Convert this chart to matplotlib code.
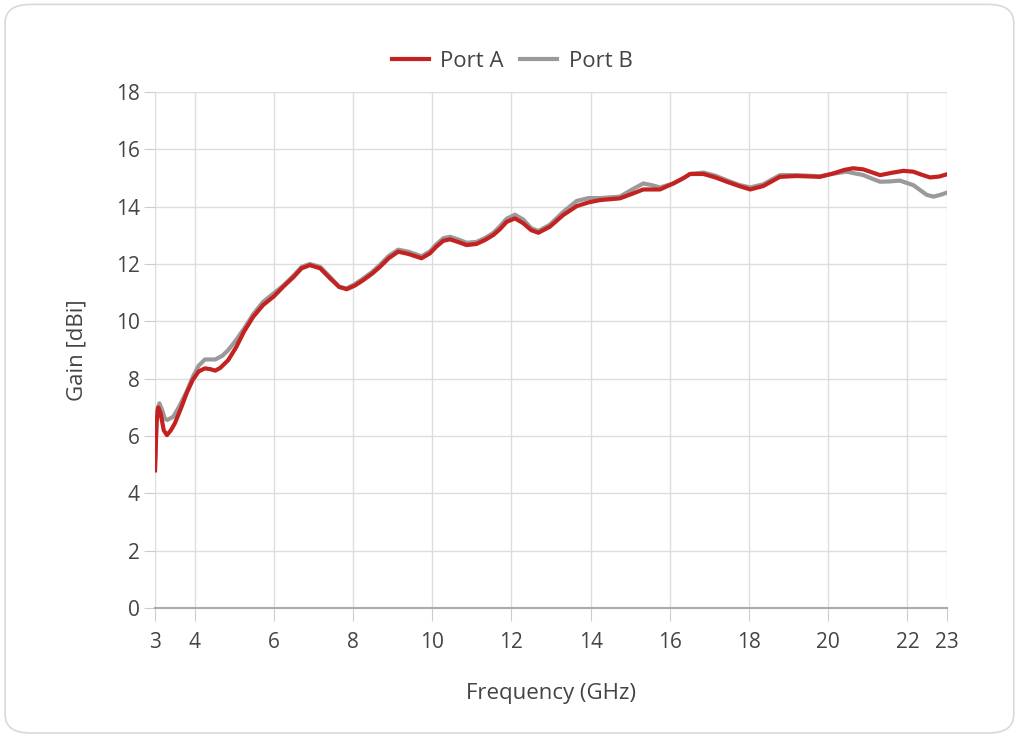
import matplotlib
matplotlib.use('Agg')
import matplotlib.pyplot as plt
from matplotlib.patches import FancyBboxPatch

plt.rcParams['font.family'] = ['Open Sans', 'DejaVu Sans']

# Port A (red) - frequency in GHz, gain in dBi
freq_a = [3.00, 3.04, 3.08, 3.14, 3.22, 3.30, 3.40, 3.50, 3.65, 3.80, 3.95, 4.10,
          4.26, 4.40, 4.52, 4.65, 4.85, 5.05, 5.25, 5.48, 5.73, 6.00, 6.24, 6.50,
          6.70, 6.91, 7.17, 7.42, 7.65, 7.84, 8.05, 8.26, 8.48, 8.68, 8.90, 9.14,
          9.40, 9.73, 9.94, 10.10, 10.28, 10.45, 10.65, 10.87, 11.12, 11.35, 11.54,
          11.70, 11.88, 12.09, 12.30, 12.50, 12.68, 12.97, 13.31, 13.65, 13.95,
          14.24, 14.74, 15.05, 15.33, 15.75, 16.09, 16.35, 16.51, 16.85, 17.15,
          17.44, 17.75, 18.03, 18.36, 18.78, 19.20, 19.79, 20.13, 20.40, 20.63,
          20.89, 21.10, 21.31, 21.60, 21.90, 22.15, 22.35, 22.57, 22.80, 23.00]
gain_a = [4.8, 6.5, 7.0, 6.8, 6.2, 6.03, 6.2, 6.44, 6.95, 7.5, 7.95, 8.25,
          8.36, 8.33, 8.28, 8.38, 8.65, 9.1, 9.65, 10.16, 10.57, 10.87, 11.21, 11.55,
          11.85, 11.96, 11.85, 11.5, 11.2, 11.12, 11.25, 11.44, 11.66, 11.9, 12.2, 12.43,
          12.35, 12.2, 12.37, 12.6, 12.81, 12.86, 12.77, 12.66, 12.7, 12.85, 13.01,
          13.2, 13.47, 13.59, 13.42, 13.18, 13.09, 13.3, 13.71, 14.02, 14.15,
          14.23, 14.29, 14.45, 14.6, 14.6, 14.81, 15.0, 15.14, 15.14, 15.02,
          14.87, 14.72, 14.6, 14.72, 15.04, 15.07, 15.04, 15.16, 15.28, 15.34,
          15.3, 15.2, 15.1, 15.18, 15.25, 15.22, 15.12, 15.02, 15.05, 15.13]

# Port B (grey)
freq_b = [3.00, 3.04, 3.11, 3.18, 3.25, 3.31, 3.46, 3.60, 3.80, 3.95, 4.10, 4.26,
          4.52, 4.70, 4.85, 5.05, 5.25, 5.48, 5.73, 6.00, 6.24, 6.50, 6.70, 6.91,
          7.17, 7.42, 7.65, 7.84, 8.05, 8.26, 8.48, 8.68, 8.90, 9.14, 9.40, 9.73,
          9.94, 10.10, 10.28, 10.45, 10.65, 10.87, 11.12, 11.35, 11.54, 11.70, 11.88,
          12.09, 12.30, 12.50, 12.68, 12.97, 13.31, 13.65, 13.95, 14.24, 14.74,
          15.05, 15.33, 15.55, 15.75, 16.09, 16.35, 16.51, 16.85, 17.15, 17.44,
          17.75, 18.03, 18.36, 18.78, 19.20, 19.79, 20.13, 20.46, 20.89, 21.10,
          21.31, 21.55, 21.81, 22.15, 22.35, 22.49, 22.66, 22.85, 23.00]
gain_b = [5.0, 6.8, 7.14, 6.9, 6.6, 6.56, 6.67, 7.0, 7.55, 8.05, 8.45, 8.67,
          8.67, 8.8, 9.0, 9.35, 9.75, 10.25, 10.68, 10.98, 11.25, 11.6, 11.9, 12.0,
          11.9, 11.55, 11.2, 11.15, 11.3, 11.5, 11.72, 11.97, 12.28, 12.5, 12.43, 12.27,
          12.44, 12.68, 12.9, 12.95, 12.86, 12.74, 12.77, 12.92, 13.08, 13.3, 13.58,
          13.72, 13.55, 13.25, 13.15, 13.37, 13.82, 14.2, 14.3, 14.3, 14.35,
          14.6, 14.81, 14.75, 14.67, 14.81, 15.0, 15.14, 15.19, 15.08, 14.92,
          14.76, 14.67, 14.78, 15.1, 15.1, 15.06, 15.15, 15.22, 15.1, 14.98,
          14.87, 14.88, 14.91, 14.75, 14.55, 14.41, 14.35, 14.42, 14.49]

xticks = [3, 4, 6, 8, 10, 12, 14, 16, 18, 20, 22, 23]
yticks = [0, 2, 4, 6, 8, 10, 12, 14, 16, 18]

txt = '#444444'
red = '#c42220'
grey = '#9a9a9a'

fig = plt.figure(figsize=(10.24, 7.36), dpi=100)
border = FancyBboxPatch((0.005, 0.004), 0.985, 0.99, boxstyle='round,pad=0,rounding_size=0.025',
                        transform=fig.transFigure, fill=False, edgecolor='#d9d9d9', linewidth=1.2)
fig.patches.append(border)

ax = fig.add_axes([0.1514, 0.1739, 0.7734, 0.7011])

ax.plot(freq_b, gain_b, color=grey, lw=3, label='Port B', zorder=3)
ax.plot(freq_a, gain_a, color=red, lw=3, label='Port A', zorder=4)

ax.set_xlim(3, 23)
ax.set_ylim(0, 18)
ax.set_xticks(xticks)
ax.set_yticks(yticks)
ax.grid(True, color='#dddddd', lw=1)
ax.set_axisbelow(True)
for s in ['top', 'right', 'left']:
    ax.spines[s].set_visible(False)
ax.spines['bottom'].set_color('#aaaaaa')
ax.spines['bottom'].set_linewidth(1.5)
ax.tick_params(axis='x', colors='#cccccc', labelcolor=txt, labelsize=15, length=9, pad=8)
ax.tick_params(axis='y', colors='#cccccc', labelcolor=txt, labelsize=15, length=8, pad=3)

ax.set_xlabel('Frequency (GHz)', fontsize=16, color=txt, labelpad=22)
ax.set_ylabel('Gain [dBi]', fontsize=16, color=txt, labelpad=20)

h, l = ax.get_legend_handles_labels()
fig.legend(h[::-1], l[::-1], loc='center', bbox_to_anchor=(0.5, 0.917), ncol=2, frameon=False,
           fontsize=16, labelcolor=txt, handlelength=1.7, handletextpad=0.5, columnspacing=0.7)

fig.savefig('out.png', dpi=100)
